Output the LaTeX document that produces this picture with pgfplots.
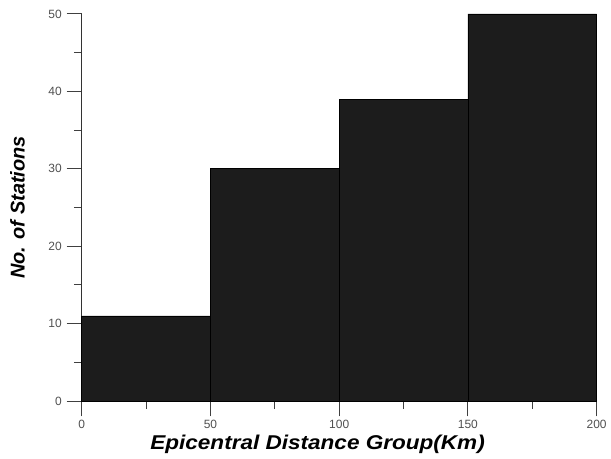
\documentclass[border=0pt]{standalone}
\usepackage{graphicx}
\usepackage{pgfplots}
\pgfplotsset{compat=1.18}
\usepackage{fontspec}
\setmainfont{Liberation Sans}
\definecolor{barc}{HTML}{1C1C1C}
\definecolor{tickc}{HTML}{505050}
\begin{document}
\begin{tikzpicture}
\begin{axis}[
  scale only axis, width=387pt, height=291pt,
  xmin=0, xmax=200, ymin=0, ymax=50,
  axis x line*=bottom, axis y line*=left,
  axis line style={draw=black!80, line width=0.6pt},
  xtick={0,50,...,200}, ytick={0,10,...,50},
  minor xtick={25,75,125,175}, minor ytick={5,15,25,35,45},
  tick align=outside,
  tickwidth=11.5pt, subtickwidth=6pt,
  xtick style={draw=black!75, line width=0.7pt},
  ytick style={draw=black!75, line width=0.7pt},
  tick label style={font=\fontsize{9}{10}\selectfont, text=tickc},
  xticklabel style={yshift=1pt},
  /pgf/number format/assume math mode=true,
  xlabel={\scalebox{1.13}[1]{\bfseries\itshape Epicentral Distance Group(Km)}},
  ylabel={\bfseries\itshape No. of Stations},
  xlabel style={font=\fontsize{15}{17}\selectfont, at={(axis description cs:0.458,-0.113)}, anchor=center},
  ylabel style={font=\fontsize{15}{17}\selectfont, at={(axis description cs:-0.125,0.5)}, anchor=center},
  clip=false,
  after end axis/.code={
    \path (axis description cs:0,1) ++(-61.5pt,10.5pt);
    \path (axis description cs:1,0) ++(8.5pt,-41pt);
  },
]
\addplot[ybar interval, fill=barc, draw=black, line width=0.5pt] coordinates {(0,11) (50,30) (100,39) (150,50) (200,50)};
\end{axis}
\end{tikzpicture}
\end{document}
